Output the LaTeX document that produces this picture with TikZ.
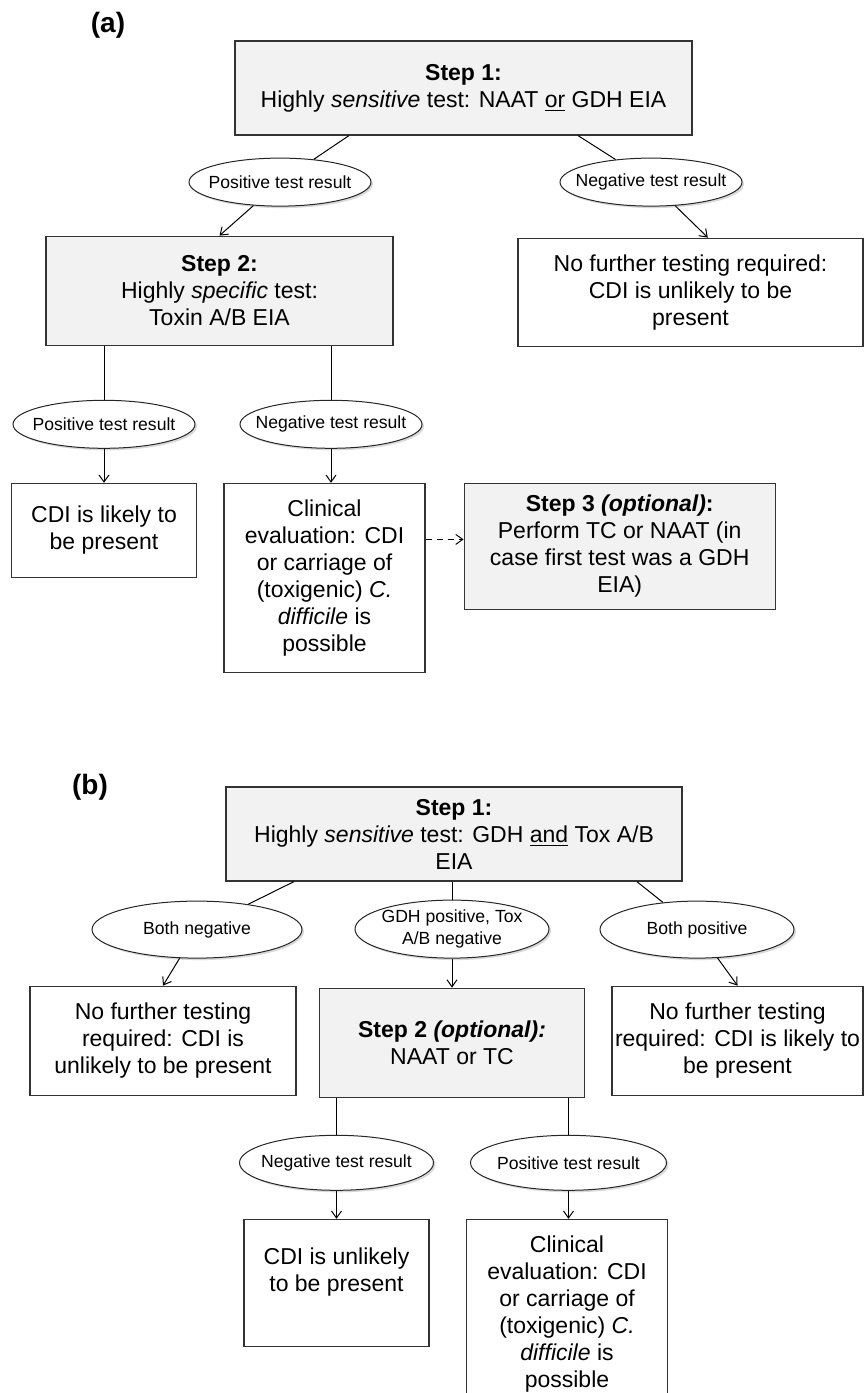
\documentclass[tikz,border=0pt]{standalone}
\usepackage{fontspec}
\setmainfont{Liberation Sans}
\usepackage{tikz}
\usetikzlibrary{shapes,arrows.meta,positioning,shadows,calc}
\tikzset{>={Straight Barb[length=3.5pt,width=5pt]}}
\tikzset{stepbox/.style={rectangle,draw=black!80,fill=black!5,line width=0.6pt,align=center,inner sep=1pt,font=\fontsize{11.5pt}{13.5pt}\selectfont},
         endbox/.style={stepbox,fill=white},
         resultoval/.style={ellipse,draw=black!85,fill=white,line width=0.5pt,inner sep=-8pt,align=center,
                            minimum width=91pt,minimum height=24pt,font=\fontsize{8.8pt}{11pt}\selectfont,
                            drop shadow={shadow xshift=1pt,shadow yshift=-1pt,opacity=0.3}},
         panel label/.style={font=\bfseries\fontsize{14pt}{16pt}\selectfont},
            }

\begin{document}
\begin{tikzpicture}[line width=0.5pt]

    \useasboundingbox (0,0) rectangle (432.5pt,-696.5pt);

    \node[panel label] (la) at (54pt,-12.5pt) {(a)};
    \node[stepbox,minimum width=228.5pt,minimum height=47pt] (a1) at (231.75pt,-44pt) {\textbf{Step 1:}\\Highly \textit{sensitive} test: NAAT \underline{or} GDH EIA};
    \node[resultoval] (pa) [below=11pt of a1,xshift=-91.75pt] {Positive test result};
    \node[resultoval] (na) [below=11pt of a1,xshift=93.75pt] {Negative test result};
    \node[stepbox,minimum width=173.5pt,minimum height=54.5pt] (a2) [below=14.5pt of pa,xshift=-30.25pt] {\textbf{Step 2:}\\Highly \textit{specific} test:\\Toxin A/B EIA};
    \node[endbox,minimum width=172.5pt,minimum height=54pt] (a4) [below=15.5pt of na,xshift=19.75pt] {No further testing required:\\CDI is unlikely to be\\present};
    \node[resultoval] (pa2) [below=27pt of a2,xshift=-57.75pt] {Positive test result};
    \node[resultoval] (na2) [below=27pt of a2,xshift=55.75pt] {Negative test result};
    \node[endbox,minimum width=92.5pt,minimum height=47pt] (a5) [below=17pt of pa2] {CDI is likely to\\be present};
    \node[endbox,minimum width=100.5pt,minimum height=94.5pt] (a6) [below=17pt of na2,xshift=-3.25pt] {Clinical\\evaluation: CDI\\or carriage of\\(toxigenic) \textit{C.}\\\textit{difficile} is\\possible};
    \node[stepbox,minimum width=155.5pt,minimum height=63pt] (a3) [right=19pt of a6,yshift=15.75pt] {\textbf{Step 3 \textit{(optional)}:}\\Perform TC or NAAT (in\\case first test was a GDH\\EIA)};

    \path[draw] ($(a1.south west)!0.25!(a1.south east)$) -- (pa);
    \path[draw,->] (pa) -- (a2.north);
    \path[draw] ($(a1.south west)!0.75!(a1.south east)$) -- (na);
    \path[draw,->] (na) -- ($(a4.north west)!0.55!(a4.north east)$);
    \path[draw] (a2.south -| pa2) -- (pa2);
    \path[draw,->] (pa2) -- (pa2 |- a5.north);
    \path[draw] (a2.south -| na2) -- (na2);
    \path[draw,->] (na2) -- (na2 |- a6.north);
    \path[draw,dash pattern=on 3pt off 2.5pt,->] ($(a3.west -| a6.east)+(0,3.5pt)$) -- ($(a3.west)+(0,3.5pt)$);

    \node[panel label] (lb) at (45pt,-393.5pt) {(b)};
    \node[stepbox,minimum width=228pt,minimum height=47pt] (b1) at (227pt,-417pt) {\textbf{Step 1:}\\Highly \textit{sensitive} test: GDH \underline{and} Tox A/B\\EIA};
    \node[resultoval,minimum width=105pt,minimum height=28.5pt] (bn) [below=9.5pt of b1,xshift=-128.5pt] {Both negative};
    \node[resultoval,minimum width=97pt,minimum height=29pt] (bm) [below=9pt of b1,xshift=-1pt] {GDH positive, Tox\\A/B negative};
    \node[resultoval,minimum width=97pt,minimum height=28.5pt] (bp) [below=9.5pt of b1,xshift=121.5pt] {Both positive};
    \node[endbox,minimum width=133pt,minimum height=54.5pt] (b4) [below=13.5pt of bn,xshift=-17pt] {No further testing\\required: CDI is\\unlikely to be present};
    \node[stepbox,minimum width=132.5pt,minimum height=54.5pt] (b2) [below=14.5pt of bm] {\textbf{Step 2 \textit{(optional):}}\\NAAT or TC};
    \node[endbox,minimum width=125.5pt,minimum height=54.5pt] (b5) [below=13.5pt of bp,xshift=20.25pt] {No further testing\\required: CDI is likely to\\be present};
    \node[resultoval,minimum width=97pt,minimum height=27.5pt] (bn2) [below=18.5pt of b2,xshift=-57.75pt] {Negative test result};
    \node[resultoval,minimum width=98pt,minimum height=27.5pt] (bp2) [below=18.5pt of b2,xshift=58.25pt] {Positive test result};
    \node[endbox,minimum width=92.5pt,minimum height=63.5pt] (b6) [below=14pt of bn2] {CDI is unlikely\\to be present\\\mbox{}};
    \node[endbox,minimum width=100.5pt,minimum height=94.5pt] (b7) [below=14pt of bp2,xshift=-0.75pt] {Clinical\\evaluation: CDI\\or carriage of\\(toxigenic) \textit{C.}\\\textit{difficile} is\\possible};

    \path[draw] ($(b1.south west)!0.15!(b1.south east)$) -- (bn);
    \path[draw,->] (bn) -- (b4.north);
    \path[draw] (b1.south -| bm) -- (bm);
    \path[draw,->] (bm) -- (bm |- b2.north);
    \path[draw] ($(b1.south west)!0.9!(b1.south east)$) -- (bp);
    \path[draw,->] (bp) -- (b5.north);
    \path[draw] (b2.south -| bn2) -- (bn2);
    \path[draw,->] (bn2) -- (bn2 |- b6.north);
    \path[draw] (b2.south -| bp2) -- (bp2);
    \path[draw,->] (bp2) -- (bp2 |- b7.north);

\end{tikzpicture}
\end{document}
